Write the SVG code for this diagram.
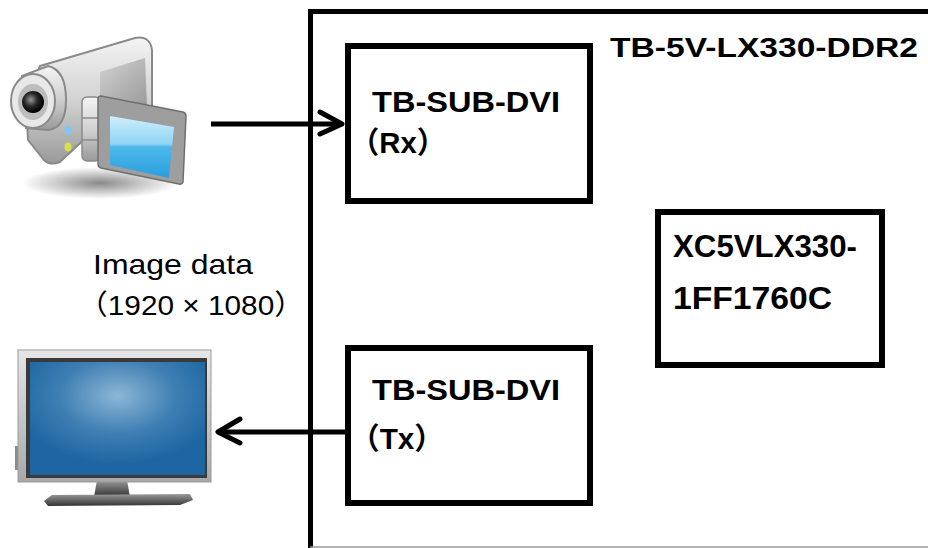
<svg xmlns="http://www.w3.org/2000/svg" width="928" height="548" viewBox="0 0 928 548">
  <style>
    .box { fill: none; stroke: #000; stroke-width: 6; }
    .bold { font-family: "Liberation Sans", "Noto Sans CJK JP", sans-serif; font-weight: bold; fill: #000; }
    .reg { font-family: "Liberation Sans", "Noto Sans CJK JP", sans-serif; fill: #000; }
    .wire { fill: none; stroke: #000; stroke-width: 5; }
    .head { fill: none; stroke: #000; stroke-width: 5; stroke-linecap: round; stroke-linejoin: round; }
  </style>
  <defs>
    <linearGradient id="camBody" x1="0" y1="0" x2="0" y2="1">
      <stop offset="0" stop-color="#f4f4f4"/>
      <stop offset="0.5" stop-color="#d2d2d2"/>
      <stop offset="1" stop-color="#9a9a9a"/>
    </linearGradient>
    <linearGradient id="camSide" x1="0" y1="0" x2="1" y2="1">
      <stop offset="0" stop-color="#c8c8c8"/>
      <stop offset="1" stop-color="#7d7d7d"/>
    </linearGradient>
    <radialGradient id="camShadow" cx="0.5" cy="0.5" r="0.5">
      <stop offset="0" stop-color="#8a8a8a"/>
      <stop offset="1" stop-color="#8a8a8a" stop-opacity="0"/>
    </radialGradient>
    <linearGradient id="camScreen" x1="0" y1="0" x2="0" y2="1">
      <stop offset="0" stop-color="#cfeefc"/>
      <stop offset="0.45" stop-color="#8fd4f4"/>
      <stop offset="0.5" stop-color="#4db8ea"/>
      <stop offset="1" stop-color="#2a9fdc"/>
    </linearGradient>
    <radialGradient id="lensGlass" cx="0.4" cy="0.4" r="0.6">
      <stop offset="0" stop-color="#9a9a9a"/>
      <stop offset="0.5" stop-color="#2a2a2a"/>
      <stop offset="1" stop-color="#000"/>
    </radialGradient>
    <linearGradient id="tvFrame" x1="0" y1="0" x2="0" y2="1">
      <stop offset="0" stop-color="#e6e6e6"/>
      <stop offset="1" stop-color="#a8a8a8"/>
    </linearGradient>
    <radialGradient id="tvScreen" cx="0.5" cy="0.3" r="0.6">
      <stop offset="0" stop-color="#8cb7d6"/>
      <stop offset="0.55" stop-color="#3f7fb3"/>
      <stop offset="1" stop-color="#1e66a2"/>
    </radialGradient>
    <linearGradient id="tvBase" x1="0" y1="0" x2="0" y2="1">
      <stop offset="0" stop-color="#9a9a9a"/>
      <stop offset="1" stop-color="#333"/>
    </linearGradient>
  </defs>

  <!-- video camera icon -->
  <g id="camera">
    <ellipse cx="100" cy="183" rx="78" ry="16" fill="url(#camShadow)"/>
    <!-- body -->
    <path d="M40 66 L135 38 Q150 35 152 50 L152 108 L105 120 L60 162 Q50 166 44 160 L28 140 L26 100 Z" fill="url(#camBody)" stroke="#8a8a8a" stroke-width="2"/>
    <path d="M100 72 L145 58 L147 106 L100 118 Z" fill="url(#camSide)" opacity="0.7"/>
    <!-- lens barrel -->
    <path d="M22 76 L48 66 Q66 70 66 100 Q66 128 48 130 L26 128 Z" fill="url(#camBody)" stroke="#8a8a8a" stroke-width="2"/>
    <ellipse cx="33" cy="101" rx="22" ry="27" fill="#e8e8e8" stroke="#8a8a8a" stroke-width="2"/>
    <ellipse cx="33" cy="102" rx="15" ry="18" fill="#bdbdbd"/>
    <circle cx="33" cy="102" r="11" fill="url(#lensGlass)"/>
    <!-- indicator lights -->
    <ellipse cx="68" cy="130" rx="3.5" ry="4.5" fill="#7ec8f0"/>
    <ellipse cx="68" cy="147" rx="3.5" ry="4.5" fill="#d6e04a"/>
    <!-- hinge -->
    <rect x="82" y="97" width="18" height="64" rx="5" fill="url(#camBody)" stroke="#8a8a8a" stroke-width="1.5"/>
    <line x1="82" y1="118" x2="100" y2="118" stroke="#8a8a8a" stroke-width="1.5"/>
    <line x1="82" y1="140" x2="100" y2="140" stroke="#8a8a8a" stroke-width="1.5"/>
    <!-- flip-out screen -->
    <path d="M101 96 L183 112 Q186 113 186 116 L183 182 Q182 185 179 184 L101 168 Q98 167 98 164 L98 99 Q98 96 101 96 Z" fill="#9e9e9e" stroke="#6f6f6f" stroke-width="1.5"/>
    <path d="M110 116 L174 127 L169 178 L110 165 Z" fill="url(#camScreen)"/>
  </g>

  <!-- flat-panel monitor icon -->
  <g id="monitor">
    <rect x="15" y="446" width="4" height="24" fill="#8c8c8c"/>
    <polygon points="97,480 127,480 130,497 94,497" fill="url(#tvBase)"/>
    <polygon points="52,495 190,494 193,500 180,505 48,506 44,501" fill="url(#tvBase)"/>
    <rect x="18" y="350" width="193" height="132" fill="url(#tvFrame)" stroke="#9a9a9a" stroke-width="1"/>
    <rect x="26" y="358" width="181" height="120" fill="#3a3a3a"/>
    <rect x="30" y="362" width="175" height="113" fill="url(#tvScreen)"/>
  </g>

  <!-- evaluation board -->
  <g id="board">
    <rect x="310.5" y="11.5" width="640" height="560" fill="none" stroke="#000" stroke-width="5"/>
    <line x1="310" y1="547" x2="928" y2="547" stroke="#9a9a9a" stroke-width="1.5"/>
    <text class="bold" x="610" y="57" font-size="27" textLength="308" lengthAdjust="spacingAndGlyphs">TB-5V-LX330-DDR2</text>
  </g>

  <g id="dvi-rx">
    <rect class="box" x="348" y="46" width="242" height="155"/>
    <text class="bold" x="372" y="112" font-size="30" textLength="188" lengthAdjust="spacingAndGlyphs">TB-SUB-DVI</text>
    <text class="bold" x="350" y="153" font-size="30" textLength="96" lengthAdjust="spacingAndGlyphs">（Rx）</text>
  </g>

  <g id="dvi-tx">
    <rect class="box" x="348" y="348" width="242" height="155"/>
    <text class="bold" x="372" y="400" font-size="30" textLength="188" lengthAdjust="spacingAndGlyphs">TB-SUB-DVI</text>
    <text class="bold" x="350" y="449" font-size="30" textLength="94" lengthAdjust="spacingAndGlyphs">（Tx）</text>
  </g>

  <g id="fpga">
    <rect class="box" x="658" y="212" width="224" height="153"/>
    <text class="bold" x="673" y="257" font-size="32" textLength="184" lengthAdjust="spacingAndGlyphs">XC5VLX330-</text>
    <text class="bold" x="673" y="309" font-size="32" textLength="159" lengthAdjust="spacingAndGlyphs">1FF1760C</text>
  </g>

  <g id="label-image-data">
    <text class="reg" x="93" y="274" font-size="28" textLength="160" lengthAdjust="spacingAndGlyphs">Image data</text>
    <text class="reg" x="78" y="315" font-size="28" textLength="226" lengthAdjust="spacingAndGlyphs">（1920 × 1080）</text>
  </g>

  <!-- connectors -->
  <g id="connectors">
    <line class="wire" x1="211" y1="124" x2="342" y2="124"/>
    <polyline class="head" points="320,112 342,124 320,134"/>
    <line class="wire" x1="218" y1="432" x2="347" y2="432"/>
    <polyline class="head" points="240,419 218,432 240,443"/>
  </g>
</svg>
